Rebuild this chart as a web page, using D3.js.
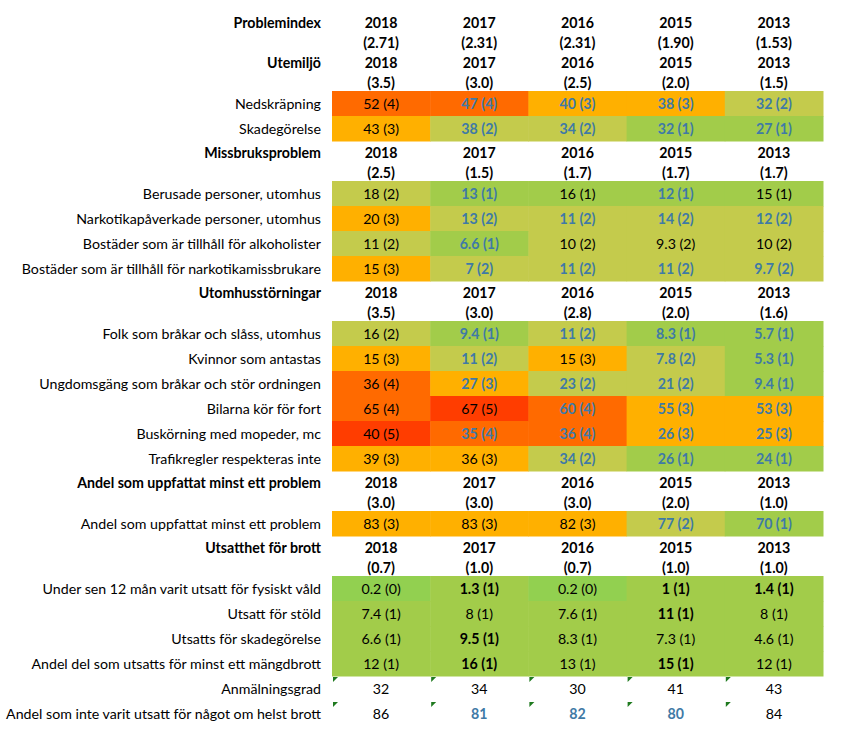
<!DOCTYPE html>
<html>
<head>
<meta charset="utf-8">
<script src="https://cdn.jsdelivr.net/npm/d3@7"></script>
<style>
  html, body { margin: 0; padding: 0; background: #fff; }
  svg { display: block; }
  text { font-family: Lato, "Open Sans", sans-serif; font-size: 14.2px; }
</style>
</head>
<body>
<svg id="chart" width="867" height="732"></svg>
<script>
// ---------- data ----------
const years = ["2018", "2017", "2016", "2015", "2013"];
const problemIndex = ["2.71", "2.31", "2.31", "1.90", "1.53"];

const sectionTitles = ["Utemiljö", "Missbruksproblem", "Utomhusstörningar",
  "Andel som uppfattat minst ett problem", "Utsatthet för brott"];
const sectionIndex = [
  ["3.5", "3.0", "2.5", "2.0", "1.5"],
  ["2.5", "1.5", "1.7", "1.7", "1.7"],
  ["3.5", "3.0", "2.8", "2.0", "1.6"],
  ["3.0", "3.0", "3.0", "2.0", "1.0"],
  ["0.7", "1.0", "0.7", "1.0", "1.0"]
];

const utemiljoRows = ["Nedskräpning", "Skadegörelse"];
const utemiljoValues = [[52, 47, 40, 38, 32], [43, 38, 34, 32, 27]];
const utemiljoLevels = [[4, 4, 3, 3, 2], [3, 2, 2, 1, 1]];
const utemiljoStyle = [["n", "b", "b", "b", "b"], ["n", "b", "b", "b", "b"]];

const missbrukRows = ["Berusade personer, utomhus", "Narkotikapåverkade personer, utomhus",
  "Bostäder som är tillhåll för alkoholister", "Bostäder som är tillhåll för narkotikamissbrukare"];
const missbrukValues = [[18, 13, 16, 12, 15], [20, 13, 11, 14, 12], [11, 6.6, 10, 9.3, 10], [15, 7, 11, 11, 9.7]];
const missbrukLevels = [[2, 1, 1, 1, 1], [3, 2, 2, 2, 2], [2, 1, 2, 2, 2], [3, 2, 2, 2, 2]];
const missbrukStyle = [["n", "b", "n", "b", "n"], ["n", "b", "b", "b", "b"], ["n", "b", "n", "n", "n"], ["n", "b", "b", "b", "b"]];

const utomhusRows = ["Folk som bråkar och slåss, utomhus", "Kvinnor som antastas",
  "Ungdomsgäng som bråkar och stör ordningen", "Bilarna kör för fort",
  "Buskörning med mopeder, mc", "Trafikregler respekteras inte"];
const utomhusValues = [[16, 9.4, 11, 8.3, 5.7], [15, 11, 15, 7.8, 5.3], [36, 27, 23, 21, 9.4],
  [65, 67, 60, 55, 53], [40, 35, 36, 26, 25], [39, 36, 34, 26, 24]];
const utomhusLevels = [[2, 1, 2, 1, 1], [3, 2, 3, 2, 1], [4, 3, 2, 2, 1], [4, 5, 4, 3, 3], [5, 4, 4, 3, 3], [3, 3, 2, 1, 1]];
const utomhusStyle = [["n", "b", "b", "b", "b"], ["n", "b", "n", "b", "b"], ["n", "b", "b", "b", "b"],
  ["n", "n", "b", "b", "b"], ["n", "b", "b", "b", "b"], ["n", "n", "b", "b", "b"]];

const andelRows = ["Andel som uppfattat minst ett problem"];
const andelValues = [[83, 83, 82, 77, 70]];
const andelLevels = [[3, 3, 3, 2, 1]];
const andelStyle = [["n", "n", "n", "b", "b"]];

const utsatthetRows = ["Under sen 12 mån varit utsatt för fysiskt våld", "Utsatt för stöld",
  "Utsatts för skadegörelse", "Andel del som utsatts för minst ett mängdbrott"];
const utsatthetValues = [[0.2, 1.3, 0.2, 1, 1.4], [7.4, 8, 7.6, 11, 8], [6.6, 9.5, 8.3, 7.3, 4.6], [12, 16, 13, 15, 12]];
const utsatthetLevels = [[0, 1, 0, 1, 1], [1, 1, 1, 1, 1], [1, 1, 1, 1, 1], [1, 1, 1, 1, 1]];
const utsatthetStyle = [["n", "k", "n", "k", "k"], ["n", "n", "n", "k", "n"], ["n", "k", "n", "n", "n"], ["n", "k", "n", "k", "n"]];

const extraRows = ["Anmälningsgrad", "Andel som inte varit utsatt för något om helst brott"];
const extraValues = [[32, 34, 30, 41, 43], [86, 81, 82, 80, 84]];
const extraStyle = [["n", "n", "n", "n", "n"], ["n", "b", "b", "b", "n"]];

const levelColors = ["#92d050", "#a2cc4a", "#c4cb4c", "#ffb000", "#ff6a00", "#ff3d00"];

// ---------- build row list ----------
const sectionsData = [
  [utemiljoRows, utemiljoValues, utemiljoLevels, utemiljoStyle],
  [missbrukRows, missbrukValues, missbrukLevels, missbrukStyle],
  [utomhusRows, utomhusValues, utomhusLevels, utomhusStyle],
  [andelRows, andelValues, andelLevels, andelStyle],
  [utsatthetRows, utsatthetValues, utsatthetLevels, utsatthetStyle]
];

const rows = [];
rows.push({ kind: "head", label: "Problemindex", cells: years });
rows.push({ kind: "head", label: "", cells: problemIndex.map(d => "(" + d + ")") });
sectionsData.forEach(([labels, vals, lvls, sty], s) => {
  rows.push({ kind: "head", label: sectionTitles[s], cells: years });
  rows.push({ kind: "head", label: "", cells: sectionIndex[s].map(d => "(" + d + ")") });
  labels.forEach((lab, i) => {
    rows.push({ kind: "data", label: lab,
      cells: vals[i].map((v, j) => ({ text: v + " (" + lvls[i][j] + ")", level: lvls[i][j], style: sty[i][j] })) });
  });
});
extraRows.forEach((lab, i) => {
  rows.push({ kind: "extra", label: lab,
    cells: extraValues[i].map((v, j) => ({ text: String(v), level: null, style: extraStyle[i][j] })) });
});

// ---------- layout ----------
const tableTop = 11;
const heightOf = r => r.kind === "head" ? 20 : 25;
const ends = d3.cumsum(rows, heightOf);
const rowTops = rows.map((r, i) => tableTop + ends[i] - heightOf(r));

const y = d3.scaleOrdinal().domain(d3.range(rows.length)).range(rowTops);
const x = d3.scaleBand().domain(years).range([332, 823]).paddingInner(0).paddingOuter(0);
const color = d3.scaleOrdinal().domain(d3.range(6)).range(levelColors);
const labelX = 321;

const svg = d3.select("#chart");

const rowG = svg.selectAll("g.row").data(rows).join("g")
  .attr("class", "row")
  .attr("transform", (d, i) => `translate(0,${y(i)})`);

// cell backgrounds
rowG.filter(d => d.kind === "data").each(function (d) {
  d3.select(this).selectAll("rect").data(d.cells).join("rect")
    .attr("x", (c, j) => x(years[j]))
    .attr("y", 0)
    .attr("width", x.bandwidth() + 0.5)
    .attr("height", 25.5)
    .attr("fill", c => color(c.level));
});

// row labels
rowG.append("text")
  .attr("x", labelX)
  .attr("y", d => heightOf(d) / 2 + (d.kind === "head" ? 2 : 1))
  .attr("dy", "0.35em")
  .attr("text-anchor", "end")
  .attr("font-weight", d => d.kind === "head" ? 700 : 400)
  .attr("fill", "#000")
  .text(d => d.label);

// cell texts
rowG.each(function (d) {
  const g = d3.select(this);
  const h = heightOf(d);
  g.selectAll("text.cell").data(d.cells).join("text")
    .attr("class", "cell")
    .attr("x", (c, j) => x(years[j]) + x.bandwidth() / 2)
    .attr("y", h / 2 + (d.kind === "head" ? 2 : 1))
    .attr("dy", "0.35em")
    .attr("text-anchor", "middle")
    .attr("font-weight", c => d.kind === "head" ? 700 : (c.style === "n" ? 400 : 700))
    .attr("fill", c => (d.kind !== "head" && c.style === "b") ? "#3f7aa6" : "#000")
    .text(c => d.kind === "head" ? c : c.text);
});

// error indicator triangles on the extra rows
rowG.filter(d => d.kind === "extra").each(function (d) {
  d3.select(this).selectAll("path.tri").data(d.cells).join("path")
    .attr("class", "tri")
    .attr("d", (c, j) => {
      const x0 = x(years[j]) + 1, y0 = 1;
      return `M${x0},${y0}L${x0 + 5},${y0}L${x0},${y0 + 5}Z`;
    })
    .attr("fill", "#1f7a1f");
});
</script>
</body>
</html>
